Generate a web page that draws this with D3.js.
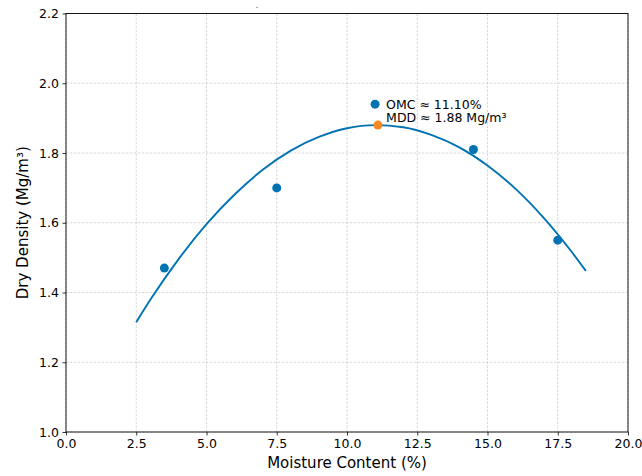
<!DOCTYPE html>
<html>
<head>
<meta charset="utf-8">
<script src="https://cdn.jsdelivr.net/npm/d3@7"></script>
<style>
  body { margin: 0; background: #fff; }
  text { font-family: "DejaVu Sans", sans-serif; }
</style>
</head>
<body>
<div id="chart"></div>
<script>
// measured compaction points
const moisture = [3.5, 7.5, 14.5, 17.5];
const density = [1.47, 1.70, 1.81, 1.55];

// fitted curve
const curveX = [2.5, 3, 4, 5, 6, 7, 8, 9, 10, 11, 12, 13, 14, 15, 16, 17, 18, 18.5];
const curveY = [1.315, 1.379, 1.495, 1.596, 1.681, 1.752, 1.807, 1.846, 1.871, 1.880,
                1.874, 1.852, 1.816, 1.764, 1.697, 1.614, 1.516, 1.462];

// optimum point + annotation marker
const omc = 11.1, mdd = 1.88;
const labelMarker = [11.0, 1.94];
const labels = ['OMC \u2248 11.10%', 'MDD \u2248 1.88 Mg/m\u00b3'];

const xTicks = [0, 2.5, 5, 7.5, 10, 12.5, 15, 17.5, 20];
const yTicks = [1.0, 1.2, 1.4, 1.6, 1.8, 2.0, 2.2];

const width = 642, height = 476;
const margin = { top: 13.5, right: 14, bottom: 44, left: 66 };

const svg = d3.select('#chart').append('svg')
  .attr('width', width)
  .attr('height', height);

const x = d3.scaleLinear().domain([0, 20]).range([margin.left, width - margin.right]);
const y = d3.scaleLinear().domain([1.0, 2.2]).range([height - margin.bottom, margin.top]);

// grid
svg.append('g').selectAll('line')
  .data(xTicks)
  .join('line')
  .attr('x1', d => x(d)).attr('x2', d => x(d))
  .attr('y1', y(1.0)).attr('y2', y(2.2))
  .attr('stroke', '#b0b0b0').attr('stroke-width', 0.8)
  .attr('stroke-dasharray', '2.5,1.5').attr('opacity', 0.6);

svg.append('g').selectAll('line')
  .data(yTicks)
  .join('line')
  .attr('x1', x(0)).attr('x2', x(20))
  .attr('y1', d => y(d)).attr('y2', d => y(d))
  .attr('stroke', '#b0b0b0').attr('stroke-width', 0.8)
  .attr('stroke-dasharray', '2.5,1.5').attr('opacity', 0.6);

// axes
const xAxis = svg.append('g')
  .attr('transform', `translate(0,${y(1.0)})`)
  .call(d3.axisBottom(x).tickValues(xTicks).tickFormat(d3.format('.1f')).tickSize(3.5).tickPadding(3.5));
const yAxis = svg.append('g')
  .attr('transform', `translate(${x(0)},0)`)
  .call(d3.axisLeft(y).tickValues(yTicks).tickFormat(d3.format('.1f')).tickSize(3.5).tickPadding(3.5));

[xAxis, yAxis].forEach(g => {
  g.select('.domain').remove();
  g.selectAll('text').attr('font-size', 12.5).attr('fill', '#000')
    .attr('font-family', '"DejaVu Sans", sans-serif');
  g.selectAll('line').attr('stroke', '#000').attr('stroke-width', 0.8);
});

// frame
svg.append('rect')
  .attr('x', x(0)).attr('y', y(2.2))
  .attr('width', x(20) - x(0)).attr('height', y(1.0) - y(2.2))
  .attr('fill', 'none').attr('stroke', '#000').attr('stroke-width', 0.9);

// fitted curve
const line = d3.line().x(d => x(d[0])).y(d => y(d[1])).curve(d3.curveMonotoneX);
svg.append('path')
  .datum(d3.zip(curveX, curveY))
  .attr('d', line)
  .attr('fill', 'none')
  .attr('stroke', '#0173b2')
  .attr('stroke-width', 1.9);

// data points
svg.append('g').selectAll('circle')
  .data(d3.zip(moisture, density))
  .join('circle')
  .attr('cx', d => x(d[0]))
  .attr('cy', d => y(d[1]))
  .attr('r', 4.5)
  .attr('fill', '#0173b2');

// annotation marker and optimum point
svg.append('circle')
  .attr('cx', x(labelMarker[0])).attr('cy', y(labelMarker[1]))
  .attr('r', 4.5).attr('fill', '#0173b2');
svg.append('circle')
  .attr('cx', x(omc)).attr('cy', y(mdd))
  .attr('r', 4.5).attr('fill', '#f5891f');

svg.append('text')
  .attr('x', x(labelMarker[0]) + 11).attr('y', y(labelMarker[1]) + 4.5)
  .attr('font-size', 12.5)
  .text(labels[0]);
svg.append('text')
  .attr('x', x(labelMarker[0]) + 11).attr('y', y(labelMarker[1]) + 18)
  .attr('font-size', 12.5)
  .text(labels[1]);

// axis labels
svg.append('text')
  .attr('x', x(10)).attr('y', height - 8)
  .attr('text-anchor', 'middle')
  .attr('font-size', 15)
  .text('Moisture Content (%)');
svg.append('text')
  .attr('transform', `translate(28,${y(1.6)}) rotate(-90)`)
  .attr('text-anchor', 'middle')
  .attr('font-size', 15)
  .text('Dry Density (Mg/m\u00b3)');

// stray mark at the top
svg.append('text')
  .attr('x', 257).attr('y', 9)
  .attr('text-anchor', 'middle')
  .attr('font-size', 6)
  .text('-');
</script>
</body>
</html>
